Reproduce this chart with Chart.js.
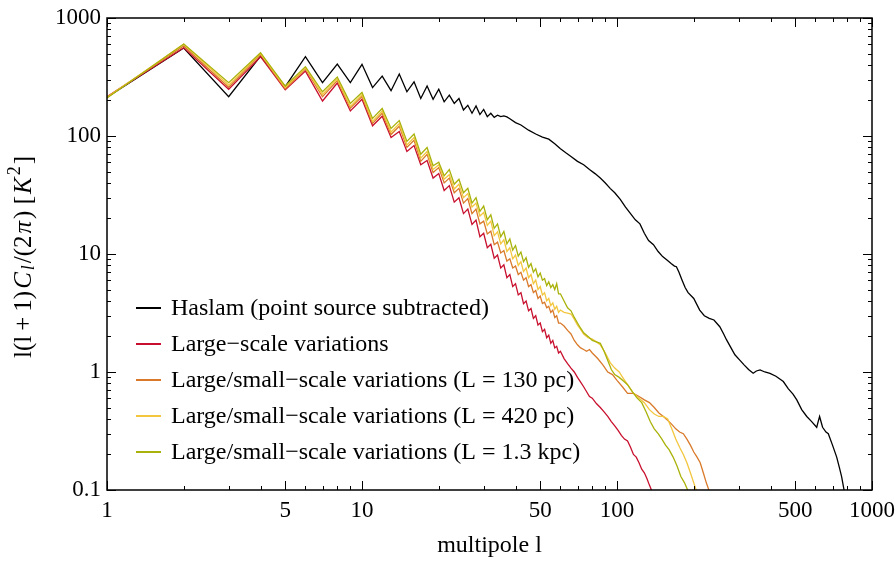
<!DOCTYPE html>
<html>
<head>
    <title>Angular power spectra</title>
    <meta charset="UTF-8">
    <script src="https://cdn.jsdelivr.net/npm/chart.js@4.4.1/dist/chart.umd.min.js"></script>
    <style>
        body { margin: 0; background: #fff; }
    </style>
</head>
<body>
<canvas id="myChart" width="896" height="566"></canvas>
<script>
    // multipoles 1..60 shared by the model curves
    const lowL = [1, 2, 3, 4, 5, 6, 7, 8, 9, 10, 11, 12, 13, 14, 15, 16, 17, 18, 19, 20,
        21, 22, 23, 24, 25, 26, 27, 28, 29, 30, 31, 32, 33, 34, 35, 36, 37, 38, 39, 40,
        41, 42, 43, 44, 45, 46, 47, 48, 49, 50, 51, 52, 53, 54, 55, 56, 57, 58, 59, 60];

    const haslamL = [1, 2, 3, 4, 5, 6, 7, 8, 9, 10, 11, 12, 13, 14, 15, 16, 17, 18, 19, 20,
        21, 22, 23, 24, 25, 26, 27, 28, 29, 30, 31, 32, 33, 34, 35, 36, 37, 38, 40, 42, 45, 48,
        51, 54, 57, 60, 63, 66, 70, 74, 78, 82, 86, 90, 94, 98, 103, 108, 113, 118, 123, 128,
        133, 139, 145, 151, 157, 163, 168, 171, 175, 180, 185, 190, 200, 211, 220, 230, 240,
        253, 262, 269, 280, 290, 303, 315, 328, 342, 352, 364, 380, 398, 420, 449, 470, 490,
        507, 530, 555, 580, 607, 615, 623, 640, 660, 674, 700, 727, 745, 760, 777];
    const haslamC = [213, 557, 215, 476, 262, 470, 283, 407, 283, 405, 257, 322, 242, 335, 237, 288, 208, 265, 205, 249,
        195, 222, 189, 208, 166, 182, 156, 180, 152, 168, 146, 156, 144, 150, 146, 148, 145, 140, 130, 124, 112, 104,
        98, 94, 86, 78, 72, 67, 61, 57, 52, 48, 44, 40, 36, 33, 29, 25, 22, 19.5, 18, 15,
        13, 12, 10.5, 9.5, 8.9, 8.3, 7.9, 7.8, 7.0, 6.0, 5.2, 4.7, 4.2, 3.35, 3.0, 2.85, 2.76,
        2.42, 2.1, 1.87, 1.6, 1.4, 1.26, 1.15, 1.05, 0.975, 1.02, 1.04, 1.0, 0.975, 0.92, 0.83, 0.72, 0.65,
        0.58, 0.48, 0.42, 0.38, 0.34, 0.38, 0.42, 0.34, 0.31, 0.30, 0.24, 0.19, 0.155, 0.13, 0.1];

    const largeTailL = [62, 64, 66, 68, 70, 72, 74, 76, 78, 80, 83, 86, 89, 92, 95, 98, 101, 104,
        107, 110, 113, 116, 119, 122, 125, 128, 131, 134, 137];
    const largeC = [215, 560, 249, 470, 246, 355, 198, 281, 163, 205, 122, 147, 97, 109, 74, 83, 57, 62, 44, 48,
        34.5, 38, 27.5, 30, 22, 24, 17.8, 19.4, 14, 15, 11.3, 12.1, 9.2, 9.8, 7.6, 8.1, 6.3, 6.7, 5.3, 5.6,
        4.5, 4.7, 3.8, 4.0, 3.3, 3.45, 2.85, 3.0, 2.5, 2.6, 2.2, 2.3, 1.95, 2.05, 1.75, 1.85, 1.6, 1.65, 1.45, 1.5,
        1.3, 1.18, 1.08, 1.0, 0.9, 0.82, 0.75, 0.68, 0.62, 0.6, 0.54, 0.5, 0.46, 0.42, 0.38, 0.35, 0.32, 0.29,
        0.27, 0.26, 0.23, 0.2, 0.19, 0.17, 0.15, 0.14, 0.125, 0.11, 0.098];

    const l130TailL = [62, 64, 66, 68, 70, 72, 74, 76, 78, 80, 84, 88, 92, 96, 100, 105, 110, 116,
        122, 128, 134, 140, 146, 152, 158, 164, 170, 176, 182, 188, 194, 200, 206, 212, 218, 224, 230];
    const l130C = [215, 580, 259, 490, 252, 370, 215, 295, 172, 216, 128, 156, 103, 121, 80, 92, 61, 70, 49, 54,
        40, 44, 33, 36, 27, 29.5, 22, 24, 18, 19, 14.8, 15.6, 12, 12.6, 10.2, 10.7, 8.7, 9.1, 7.6, 7.9,
        6.7, 7.0, 6.0, 6.3, 5.3, 5.5, 4.7, 4.9, 4.2, 4.4, 3.8, 3.9, 3.5, 3.6, 3.2, 3.35, 2.9, 3.0, 2.6, 2.6,
        2.45, 2.25, 2.1, 1.85, 1.7, 1.6, 1.55, 1.5, 1.55, 1.45, 1.3, 1.15, 1.0, 0.95, 0.85, 0.75, 0.66, 0.66,
        0.62, 0.58, 0.55, 0.5, 0.45, 0.42, 0.39, 0.36, 0.33, 0.31, 0.30, 0.27, 0.24, 0.21, 0.19, 0.17, 0.14, 0.115, 0.098];

    const l420TailL = [62, 64, 66, 68, 70, 72, 74, 77, 80, 83, 86, 90, 94, 98, 102, 106, 110, 116,
        122, 128, 134, 140, 146, 152, 158, 164, 170, 176, 182, 188, 194, 200, 205];
    const l420C = [212, 600, 270, 500, 258, 378, 225, 305, 178, 224, 133, 163, 108, 127, 84, 97, 65, 74, 52, 57,
        43, 47, 35.5, 39, 30, 32.5, 25, 27, 21, 22.5, 17.5, 19, 14.3, 15.4, 12.2, 13.2, 10.5, 11.3, 9.1, 9.8,
        8.0, 8.6, 7.1, 7.6, 6.3, 6.7, 5.6, 6.0, 5.0, 5.3, 4.5, 4.7, 4.0, 4.2, 3.65, 3.85, 3.4, 3.6, 3.2, 3.35,
        3.2, 3.15, 3.1, 2.8, 2.5, 2.3, 2.1, 1.95, 1.9, 1.8, 1.7, 1.45, 1.2, 1.08, 1.0, 0.88, 0.78, 0.66,
        0.6, 0.55, 0.48, 0.44, 0.42, 0.42, 0.40, 0.33, 0.27, 0.23, 0.20, 0.17, 0.14, 0.115, 0.098];

    const l1300TailL = [62, 64, 66, 68, 70, 72, 74, 76, 78, 80, 83, 86, 89, 92, 95, 98, 102, 106,
        110, 115, 120, 125, 130, 135, 140, 145, 150, 155, 160, 166, 172, 178, 184, 190];
    const l1300C = [210, 602, 283, 508, 265, 387, 237, 316, 189, 234, 141, 171, 116, 135, 90, 104, 70, 80, 56, 60,
        46, 52, 39, 43, 33, 36, 27, 30, 23, 25.5, 19.5, 21.5, 16.5, 18, 14, 15.5, 12.2, 13.4, 10.8, 11.8,
        9.6, 10.4, 8.6, 9.3, 7.7, 8.3, 7.0, 7.5, 6.4, 6.9, 6.0, 6.2, 5.4, 5.8, 5.2, 5.5, 5.0, 5.6, 4.6, 4.6,
        4.0, 3.5, 3.3, 2.9, 2.6, 2.35, 2.15, 2.05, 1.95, 1.85, 1.8, 1.75, 1.5, 1.25, 1.05, 0.95, 0.9, 0.84,
        0.78, 0.68, 0.6, 0.55, 0.46, 0.38, 0.33, 0.30, 0.27, 0.24, 0.22, 0.19, 0.16, 0.13, 0.115, 0.098];

    const seriesNames = [
        'Haslam (point source subtracted)',
        'Large\u2212scale variations',
        'Large/small\u2212scale variations (L = 130 pc)',
        'Large/small\u2212scale variations (L = 420 pc)',
        'Large/small\u2212scale variations (L = 1.3 kpc)'
    ];
    const seriesColors = ['#000000', '#c8102e', '#d97a2b', '#f3c63f', '#a9b20a'];

    const xTicks = [1, 2, 3, 4, 5, 6, 7, 8, 9, 10, 20, 30, 40, 50, 60, 70, 80, 90, 100,
        200, 300, 400, 500, 600, 700, 800, 900, 1000];
    const xLabels = [1, 5, 10, 50, 100, 500, 1000];
    const yTicks = [0.1, 0.2, 0.3, 0.4, 0.5, 0.6, 0.7, 0.8, 0.9, 1, 2, 3, 4, 5, 6, 7, 8, 9, 10,
        20, 30, 40, 50, 60, 70, 80, 90, 100, 200, 300, 400, 500, 600, 700, 800, 900, 1000];
    const yLabels = [0.1, 1, 10, 100, 1000];

    const FONT = '"Liberation Serif", "Times New Roman", serif';

    function points(ls, vs) {
        return ls.map((l, i) => ({x: l, y: vs[i]}));
    }

    const xs = [haslamL, lowL.concat(largeTailL), lowL.concat(l130TailL), lowL.concat(l420TailL), lowL.concat(l1300TailL)];
    const ys = [haslamC, largeC, l130C, l420C, l1300C];

    let datasets = [];
    for (let i = 0; i < seriesNames.length; i++) {
        datasets.push({
            label: seriesNames[i],
            data: points(xs[i], ys[i]),
            borderColor: seriesColors[i],
            backgroundColor: seriesColors[i],
            borderWidth: 1.3,
            pointRadius: 0,
            tension: 0,
            order: seriesNames.length - i
        });
    }

    // frame, inward ticks on all four sides, legend and axis titles
    const decorations = {
        id: 'decorations',
        afterDraw(chart) {
            const c = chart.ctx;
            const a = chart.chartArea;
            const sx = chart.scales.x, sy = chart.scales.y;
            c.save();
            c.strokeStyle = '#000';
            c.lineWidth = 1;
            c.beginPath();
            xTicks.forEach(v => {
                const px = Math.round(sx.getPixelForValue(v)) + 0.5;
                const len = xLabels.includes(v) ? 9 : 4;
                c.moveTo(px, a.bottom); c.lineTo(px, a.bottom - len);
                c.moveTo(px, a.top); c.lineTo(px, a.top + len);
            });
            yTicks.forEach(v => {
                const py = Math.round(sy.getPixelForValue(v)) + 0.5;
                const len = yLabels.includes(v) ? 9 : 4;
                c.moveTo(a.left, py); c.lineTo(a.left + len, py);
                c.moveTo(a.right, py); c.lineTo(a.right - len, py);
            });
            c.stroke();
            c.lineWidth = 1.5;
            c.strokeRect(a.left, a.top, a.right - a.left, a.bottom - a.top);

            // legend
            const rows = [308, 344, 380, 416, 452];
            c.font = '24px ' + FONT;
            c.textBaseline = 'middle';
            c.textAlign = 'left';
            c.lineWidth = 2;
            for (let i = 0; i < seriesNames.length; i++) {
                c.strokeStyle = seriesColors[i];
                c.beginPath();
                c.moveTo(136, rows[i]); c.lineTo(161, rows[i]);
                c.stroke();
                c.fillStyle = '#000';
                c.fillText(seriesNames[i], 171, rows[i] + 1);
            }

            // x title
            c.textAlign = 'center';
            c.font = '24px ' + FONT;
            c.fillText('multipole l', (a.left + a.right) / 2, 546);

            // y title with italic/sub/superscript pieces
            const parts = [
                {t: 'l(l\u2009+\u20091)', f: '25px ' + FONT, dy: 0},
                {t: 'C', f: 'italic 25px ' + FONT, dy: 0},
                {t: 'l', f: 'italic 18px ' + FONT, dy: 5},
                {t: '/(2', f: '25px ' + FONT, dy: 0},
                {t: '\u03c0', f: 'italic 25px ' + FONT, dy: 0},
                {t: ') [', f: '25px ' + FONT, dy: 0},
                {t: 'K', f: 'italic 25px ' + FONT, dy: 0},
                {t: '2', f: '18px ' + FONT, dy: -9},
                {t: ']', f: '25px ' + FONT, dy: 0}
            ];
            const gap = 2;
            let total = 0;
            parts.forEach(p => { c.font = p.f; p.w = c.measureText(p.t).width + gap; total += p.w; });
            c.translate(24, 256);
            c.rotate(-Math.PI / 2);
            c.textAlign = 'left';
            let x0 = -total / 2;
            parts.forEach(p => {
                c.font = p.f;
                c.fillText(p.t, x0, p.dy);
                x0 += p.w;
            });
            c.restore();
        }
    };

    let ctx = document.getElementById('myChart').getContext('2d');
    let myChart = new Chart(ctx, {
        type: 'line',
        data: {datasets: datasets},
        options: {
            responsive: false,
            animation: false,
            layout: {padding: {top: 18, right: 24, left: 0, bottom: 0}},
            plugins: {legend: {display: false}, tooltip: {enabled: false}},
            scales: {
                x: {
                    type: 'logarithmic',
                    min: 1,
                    max: 1000,
                    grid: {display: false, drawTicks: false},
                    border: {display: false},
                    afterBuildTicks: s => { s.ticks = xTicks.map(v => ({value: v})); },
                    afterFit: s => { s.height = 76; s.paddingLeft = 0; s.paddingRight = 0; },
                    ticks: {
                        autoSkip: false,
                        maxRotation: 0,
                        padding: 7,
                        color: '#000',
                        font: {family: FONT, size: 23},
                        callback: v => xLabels.includes(v) ? String(v) : ''
                    }
                },
                y: {
                    type: 'logarithmic',
                    min: 0.1,
                    max: 1000,
                    grid: {display: false, drawTicks: false},
                    border: {display: false},
                    afterBuildTicks: s => { s.ticks = yTicks.map(v => ({value: v})); },
                    afterFit: s => { s.width = 107; s.paddingTop = 0; s.paddingBottom = 0; },
                    ticks: {
                        autoSkip: false,
                        padding: 6,
                        color: '#000',
                        font: {family: FONT, size: 23},
                        callback: v => yLabels.includes(v) ? String(v) : ''
                    }
                }
            }
        },
        plugins: [decorations]
    });
</script>
</body>
</html>
